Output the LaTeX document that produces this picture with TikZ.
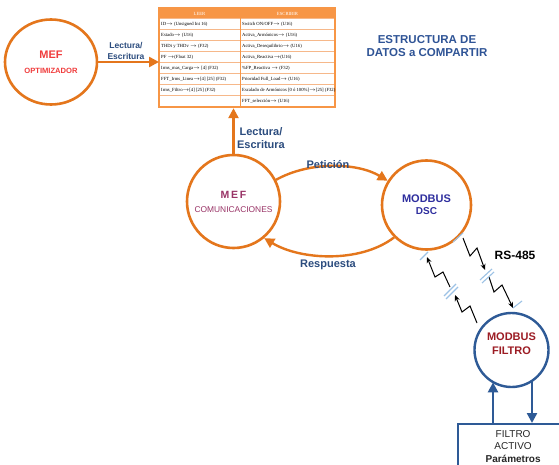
\documentclass[tikz,border=0pt]{standalone}
\usepackage{fontspec}
\setmainfont{Liberation Sans}
\newfontfamily\tabfont{Liberation Serif}
\usetikzlibrary{arrows.meta,calc,shapes.geometric}

\definecolor{ora}{HTML}{E4761C}
\definecolor{hdr}{HTML}{F79646}
\definecolor{rowln}{HTML}{F6B88A}
\definecolor{navy}{HTML}{2B4C7E}
\definecolor{titblue}{HTML}{2F5496}
\definecolor{dscblue}{HTML}{2E2E9E}
\definecolor{plum}{HTML}{993366}
\definecolor{optred}{HTML}{F03C3C}
\definecolor{filred}{HTML}{9C1C24}
\definecolor{fblue}{HTML}{2E5A96}
\definecolor{cable}{HTML}{9CC2E5}

\newcommand{\fsz}[2]{\fontsize{#1}{#2}\selectfont}

\tikzset{
  orangecirc/.style={draw=ora, line width=2.6pt, inner sep=0pt, align=center, font=\bfseries},
  orangearrow/.style={draw=ora, line width=2.4pt, -{Triangle[length=10pt,width=10pt]}},
  bluearrow/.style={draw=fblue, line width=2.4pt, -{Triangle[length=10pt,width=10pt]}},
  lbl/.style={text=navy, font=\bfseries, align=center, inner sep=0pt},
  celda/.style={anchor=west, inner sep=0pt, font=\tabfont\fsz{4.7}{5}},
  zigzag/.style={draw=black, line width=1pt, -{Stealth[length=6pt,width=5pt]}},
  cablemark/.style={draw=cable, line width=1.1pt}
}

\begin{document}
\begin{tikzpicture}[x=1pt, y=-1pt]
\useasboundingbox (0,0) rectangle (559,465);
\fill[white] (0,0) rectangle (559,465);

% ---------- shared data table ----------
\node[draw=hdr, line width=1.2pt, minimum width=176pt, minimum height=99pt, inner sep=0pt, anchor=north west] (tabla) at (159,8) {};
\fill[hdr] (159,8) rectangle (335,19);
\foreach \yy in {19,30,41,52,63,74,85,96}
  \draw[rowln, line width=1pt] (159,\yy) -- (335,\yy);
\draw[hdr, line width=0.9pt] (240,8) -- (240,107);
\draw[hdr, line width=1.2pt] (159,8) rectangle (335,107);

\node[text=white, inner sep=0pt, font=\tabfont\fsz{4.7}{5}] at (199.5,13.5) {LEER};
\node[text=white, inner sep=0pt, font=\tabfont\fsz{4.7}{5}] at (287.5,13.5) {ESCRIBIR};

\node[celda] at (161,24.5) {ID$\rightarrow$ (Unsigned Int 16)};
\node[celda] at (161,35.5) {Estado$\rightarrow$ (U16)};
\node[celda] at (161,46.5) {THDi y THDv $\rightarrow$ (F32)};
\node[celda] at (161,57.5) {PF $\rightarrow$(Float 32)};
\node[celda] at (161,68.5) {Irms\_mas\_Carga$\rightarrow$ [4] (F32)};
\node[celda] at (161,79.5) {FFT\_Irms\_Linea$\rightarrow$[4] [25] (F32)};
\node[celda] at (161,90.5) {Irms\_Filtro$\rightarrow$[4] [25] (F32)};

\node[celda] at (242,24.5) {Switch ON/OFF$\rightarrow$ (U16)};
\node[celda] at (242,35.5) {Activa\_Arm\'onicos$\rightarrow$ (U16)};
\node[celda] at (242,46.5) {Activa\_Desequilibrio$\rightarrow$ (U16)};
\node[celda] at (242,57.5) {Activa\_Reactiva$\rightarrow$(U16)};
\node[celda] at (242,68.5) {\%FP\_Reactiva $\rightarrow$ (F32)};
\node[celda] at (242,79.5) {Prioridad Full\_Load$\rightarrow$ (U16)};
\node[celda] at (242,90.5) {Escalado de Arm\'onicos [0 \'o 100\%]$\rightarrow$[25] (F32)};
\node[celda] at (242,101.5) {FFT\_selecci\'on$\rightarrow$ (U16)};

% ---------- title ----------
\node[text=titblue, font=\bfseries\fsz{11.5}{13}, align=center, inner sep=0pt] (titulo) at (427,46.5) {ESTRUCTURA DE\\DATOS a COMPARTIR};

% ---------- processes ----------
\node[orangecirc, ellipse, minimum width=92pt, minimum height=85pt, text=optred] (opt) at (51,62)
  {{\fsz{11}{12}MEF}\\[3pt]{\fsz{7.6}{9}OPTIMIZADOR}};
\node[orangecirc, circle, minimum size=93pt, text=plum] (com) at (233.5,201.5)
  {\mbox{}\\[-4pt]{\fsz{10.5}{12}M\,E\,F}\\[2pt]{\mdseries\fsz{8.4}{9}COMUNICACIONES}};
\node[orangecirc, circle, minimum size=89pt, text=dscblue] (dsc) at (426.5,205)
  {\fsz{11}{14}MODBUS\\DSC};
\node[draw=fblue, line width=2.4pt, circle, minimum size=74pt, inner sep=0pt, align=center,
      text=filred, font=\bfseries\fsz{11}{14}] (fil) at (511.5,350) {MODBUS\\FILTRO\\[-2pt]\mbox{}};
\node[draw=fblue, line width=2.2pt, minimum width=110pt, minimum height=44pt, anchor=north west,
      inner sep=0pt, align=center, font=\fsz{10}{12.5}, text=black!85] (box) at (457,423)
  {FILTRO\\ACTIVO\\\textbf{Par\'ametros}};

% ---------- connectors ----------
\draw[orangearrow] (opt.east) -- (opt.east -| tabla.west);
\node[lbl, font=\bfseries\fsz{8.5}{11}] at (126,50.5) {Lectura/\\Escritura};

\draw[orangearrow] (com.north) -- (com.north |- tabla.south);
\node[lbl, font=\bfseries\fsz{11}{12.5}] at (261,138) {Lectura/\\Escritura};

\draw[orangearrow] (com.27) .. controls +(34,-19) and +(-30,-18) .. (dsc.148);
\node[lbl, font=\bfseries\fsz{11}{12}] at (328,165) {Petici\'on};

\draw[orangearrow] (dsc.225) .. controls +(-34,26) and +(36,22) .. (com.-50);
\node[lbl, font=\bfseries\fsz{11}{12}] at (328,265) {Respuesta};

% RS-485 link, drawn as broken lightning arrows
\coordinate (dA) at (463,238);
\coordinate (dB) at (489,277);
\coordinate (uC) at (477,323);
\coordinate (uD) at (450,287);
\draw[zigzag] (dA) -- ++(7,18) -- ++(7,-8) -- ++(8,22);
\draw[zigzag] (dB) -- ++(5,15) -- ++(8,-7) -- ++(11,23);
\draw[zigzag] (uC) -- ++(-7,-17) -- ++(-8,6) -- ++(-7,-17);
\draw[zigzag] (uD) -- ++(-7,-15) -- ++(-8,5) -- ++(-8,-20);

\draw[cablemark] (453,242) -- (463,233);
\draw[cablemark] (480,280) -- (492,269);
\draw[cablemark] (482,283) -- (494,272);
\draw[cablemark] (513,308) -- (522,301);
\draw[cablemark] (420,260) -- (428,252);
\draw[cablemark] (444,296) -- (456,284);
\draw[cablemark] (446,299) -- (458,287);

\node[font=\bfseries\fsz{12}{13}, inner sep=0pt] (rs) at (515,255) {RS-485};

% filter data exchange
\draw[bluearrow] ([xshift=36pt]box.north west) -- ([xshift=36pt]box.north west |- fil.238);
\draw[bluearrow] ([xshift=75pt]box.north west |- fil.302) -- ([xshift=75pt]box.north west);
\end{tikzpicture}
\end{document}
